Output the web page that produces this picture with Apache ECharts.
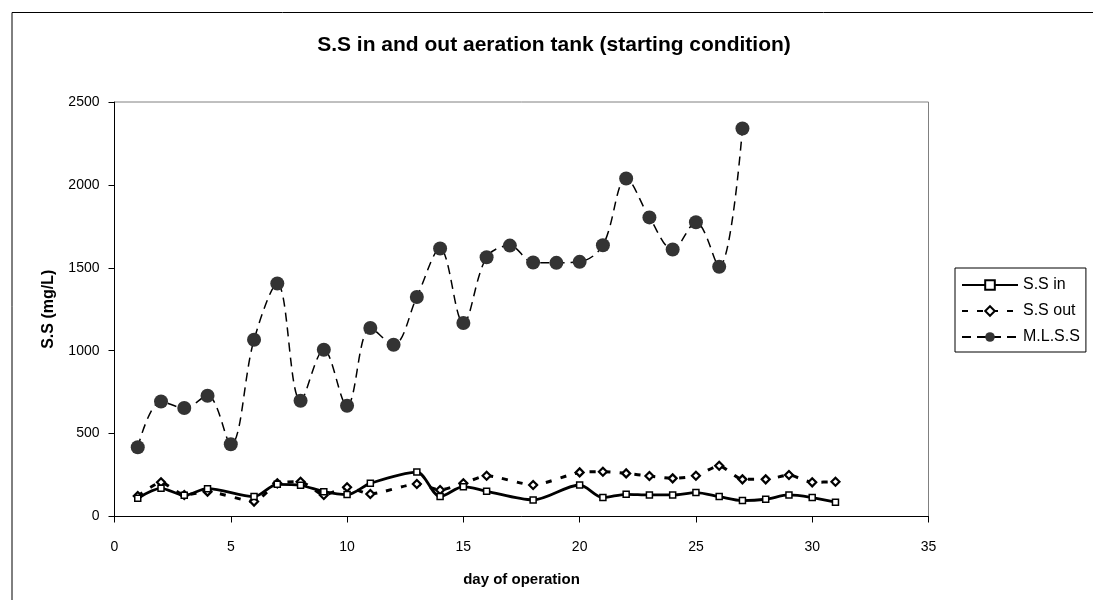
<!DOCTYPE html>
<html>
<head>
<meta charset="utf-8">
<script src="https://cdn.jsdelivr.net/npm/echarts@6/dist/echarts.min.js"></script>
<style>
  html, body { margin: 0; padding: 0; background: #fff; }
  #chart-container { width: 1093px; height: 600px; }
</style>
</head>
<body>
<div id="chart-container"></div>
<script>
// days present in each series (days 5, 12, 17, 19 have no S.S readings)
const ssDays = [1, 2, 3, 4, 6, 7, 8, 9, 10, 11, 13, 14, 15, 16, 18, 20, 21, 22, 23, 24, 25, 26, 27, 28, 29, 30, 31];
const ssIn = [110, 170, 128, 168, 120, 194, 188, 150, 132, 200, 268, 120, 180, 152, 100, 190, 114, 134, 130, 130, 144, 120, 96, 104, 130, 114, 86];
const ssOut = [124, 206, 130, 150, 90, 200, 210, 130, 176, 136, 196, 160, 200, 246, 190, 266, 270, 260, 244, 230, 246, 306, 224, 224, 250, 206, 210];

const mlssDays = [1, 2, 3, 4, 5, 6, 7, 8, 9, 10, 11, 12, 13, 14, 15, 16, 17, 18, 19, 20, 21, 22, 23, 24, 25, 26, 27];
const mlss = [418, 694, 654, 728, 436, 1066, 1405, 698, 1006, 668, 1137, 1036, 1324, 1616, 1167, 1564, 1634, 1532, 1530, 1536, 1636, 2039, 1804, 1610, 1775, 1506, 2340];

const xMax = 35, xStep = 5;
const yMax = 2500, yStep = 500;

const pairs = (xs, ys) => xs.map((x, i) => [x, ys[i]]);

const dom = document.getElementById("chart-container");
const myChart = echarts.init(dom, null, { renderer: "canvas" });

const font = "Arial, 'Liberation Sans', sans-serif";

const option = {
  backgroundColor: "#ffffff",
  animation: false,
  textStyle: { fontFamily: font, color: "#000" },
  title: {
    text: "S.S in and out aeration tank (starting condition)",
    left: 549,
    top: 30,
    textAlign: "center",
    textStyle: { fontFamily: font, fontSize: 21, fontWeight: "bold", color: "#000" },
  },
  graphic: [
    {
      type: "rect",
      left: 9.5,
      top: 10,
      shape: { width: 1200, height: 700 },
      style: { fill: "none", stroke: "#000", lineWidth: 1 },
      silent: true,
    },
  ],
  legend: {
    orient: "vertical",
    left: 955,
    top: 268,
    padding: [9, 6, 7, 6],
    itemGap: 10,
    itemWidth: 56,
    itemHeight: 12,
    itemTextGap: 7,
    borderColor: "#000",
    borderWidth: 1,
    backgroundColor: "#fff",
    textStyle: { fontFamily: font, fontSize: 16, color: "#000" },
    data: ["S.S in", "S.S out", "M.L.S.S"],
  },
  grid: {
    left: 114.5,
    right: 164.5,
    top: 102,
    bottom: 83.5,
    show: true,
    borderColor: "#808080",
    borderWidth: 1,
  },
  xAxis: {
    type: "value",
    min: 0,
    max: xMax,
    interval: xStep,
    name: "day of operation",
    nameLocation: "middle",
    nameGap: 56,
    nameTextStyle: { fontFamily: font, fontSize: 15, fontWeight: "bold", color: "#000" },
    axisLine: { show: true, onZero: false, lineStyle: { color: "#000", width: 1 } },
    axisTick: { show: true, inside: false, length: 6, lineStyle: { color: "#000" } },
    axisLabel: { fontFamily: font, fontSize: 14, color: "#000", margin: 24 },
    splitLine: { show: false },
  },
  yAxis: {
    type: "value",
    min: 0,
    max: yMax,
    interval: yStep,
    name: "S.S (mg/L)",
    nameLocation: "middle",
    nameGap: 58,
    nameTextStyle: { fontFamily: font, fontSize: 16, fontWeight: "bold", color: "#000" },
    axisLine: { show: true, lineStyle: { color: "#000", width: 1 } },
    axisTick: { show: true, inside: false, length: 6, lineStyle: { color: "#000" } },
    axisLabel: {
      fontFamily: font,
      fontSize: 14,
      color: "#000",
      margin: 15,
      formatter: (v) => String(v),
    },
    splitLine: { show: false },
  },
  series: [
    {
      name: "S.S in",
      type: "line",
      data: pairs(ssDays, ssIn),
      smooth: 0.3,
      symbol: "rect",
      symbolSize: 6,
      lineStyle: { color: "#000", width: 2.8, type: "solid" },
      itemStyle: { color: "#fff", borderColor: "#000", borderWidth: 1.5 },
      z: 3,
    },
    {
      name: "S.S out",
      type: "line",
      data: pairs(ssDays, ssOut),
      smooth: 0.2,
      symbol: "diamond",
      symbolSize: 8,
      lineStyle: { color: "#000", width: 3, type: [6, 9] },
      itemStyle: { color: "#fff", borderColor: "#000", borderWidth: 2.2 },
      z: 2,
    },
    {
      name: "M.L.S.S",
      type: "line",
      data: pairs(mlssDays, mlss),
      smooth: 0.35,
      symbol: "circle",
      symbolSize: 14,
      lineStyle: { color: "#000", width: 1.5, type: [9, 6] },
      itemStyle: { color: "#333", borderColor: "#333", borderWidth: 0 },
      z: 4,
    },
  ],
};

myChart.setOption(option);
window.addEventListener("resize", myChart.resize);
</script>
</body>
</html>
